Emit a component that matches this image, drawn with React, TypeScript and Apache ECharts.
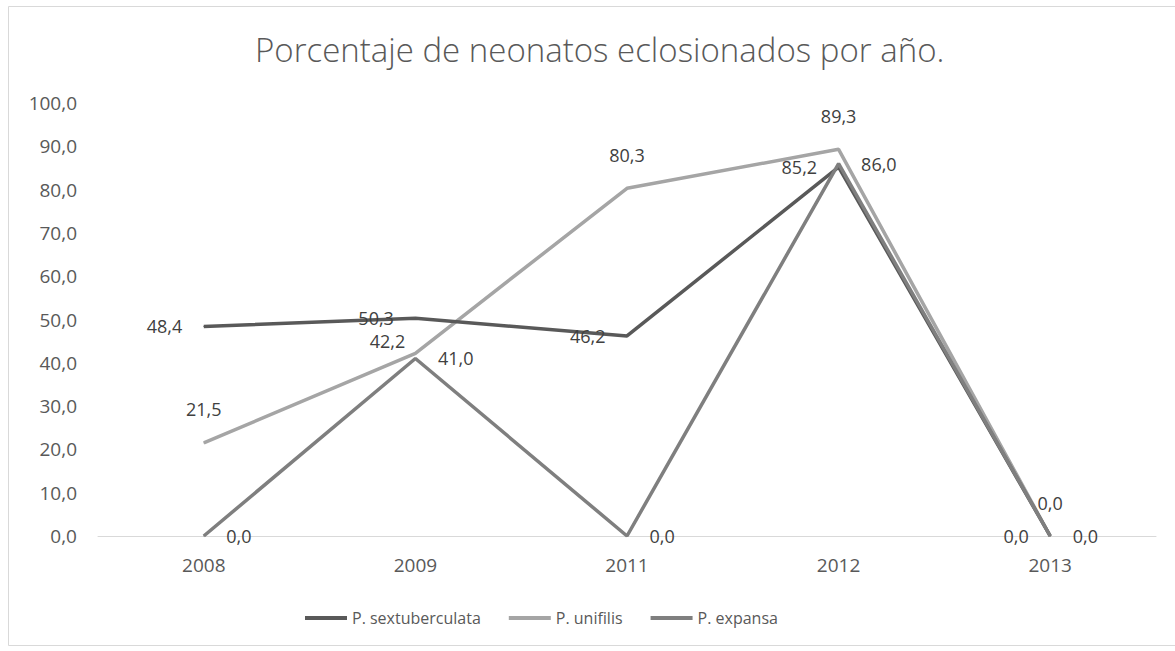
import React, { useEffect, useRef } from "react";
import * as echarts from "echarts";

const categories = ["2008", "2009", "2011", "2012", "2013"];
const sextuberculata = [48.4, 50.3, 46.2, 85.2, 0.0];
const unifilis = [21.5, 42.2, 80.3, 89.3, 0.0];
const expansa = [0.0, 41.0, 0.0, 86.0, 0.0];
const seriesNames = ["P. sextuberculata", "P. unifilis", "P. expansa"];
const titleText = "Porcentaje de neonatos eclosionados por año.";

const fmt = (v: number) => v.toFixed(1).replace(".", ",");
const FONT = "'Open Sans', 'Noto Sans', sans-serif";

export default function App() {
  const ref = useRef<HTMLDivElement>(null);
  useEffect(() => {
    if (!ref.current) return;
    const chart = echarts.init(ref.current, null, { renderer: "svg" });
    const labelBase = {
      show: true,
      color: "#404040",
      fontSize: 18,
      fontFamily: FONT,
      formatter: (p: any) => fmt(p.value),
    };
    chart.setOption({
      animation: false,
      backgroundColor: "#ffffff",
      textStyle: { fontFamily: FONT },
      title: {
        text: titleText,
        left: 250,
        top: 28,
        textStyle: { fontSize: 33, fontWeight: 300, color: "#595959", fontFamily: FONT },
      },
      graphic: [
        {
          type: "rect",
          shape: { x: 8.5, y: 6.5, width: 1180, height: 639 },
          style: { fill: "none", stroke: "#d9d9d9", lineWidth: 1 },
          silent: true,
        },
      ],
      legend: {
        data: seriesNames,
        bottom: 20,
        left: 300,
        icon: "rect",
        itemWidth: 42,
        itemHeight: 4,
        itemGap: 28,
        textStyle: { color: "#595959", fontSize: 16, fontFamily: FONT },
      },
      grid: { left: 98, right: 19, top: 103, bottom: 115 },
      xAxis: {
        type: "category",
        data: categories,
        boundaryGap: true,
        axisLine: { lineStyle: { color: "#d9d9d9", width: 1 } },
        axisTick: { show: false },
        axisLabel: { color: "#595959", fontSize: 19, margin: 19, fontFamily: FONT },
      },
      yAxis: {
        type: "value",
        min: 0,
        max: 100,
        interval: 10,
        axisLine: { show: false },
        axisTick: { show: false },
        splitLine: { show: false },
        axisLabel: {
          color: "#595959",
          fontSize: 19,
          margin: 21,
          fontFamily: FONT,
          formatter: (v: number) => fmt(v),
        },
      },
      series: [
        {
          name: seriesNames[0],
          type: "line",
          data: sextuberculata,
          symbol: "circle",
          symbolSize: 1,
          itemStyle: { color: "#595959" },
          lineStyle: { color: "#595959", width: 3.5 },
          label: { ...labelBase, position: "left", distance: 21 },
          z: 3,
        },
        {
          name: seriesNames[1],
          type: "line",
          data: unifilis.map((v, i) =>
            i === 1
              ? { value: v, label: { position: "top", distance: 3, offset: [-28, 0] } }
              : v
          ),
          symbol: "circle",
          symbolSize: 1,
          itemStyle: { color: "#a5a5a5" },
          lineStyle: { color: "#a5a5a5", width: 3.5 },
          label: { ...labelBase, position: "top", distance: 24 },
          z: 2,
        },
        {
          name: seriesNames[2],
          type: "line",
          data: expansa,
          symbol: "circle",
          symbolSize: 1,
          itemStyle: { color: "#7f7f7f" },
          lineStyle: { color: "#7f7f7f", width: 3.5 },
          label: { ...labelBase, position: "right", distance: 22 },
          z: 4,
        },
      ],
    });
    return () => chart.dispose();
  }, []);
  return (
    <div
      ref={ref}
      style={{ position: "fixed", left: 0, top: 0, width: 1175, height: 651 }}
    />
  );
}
